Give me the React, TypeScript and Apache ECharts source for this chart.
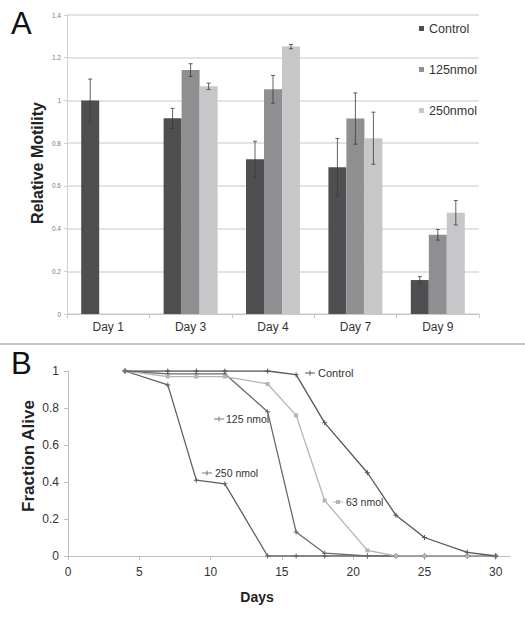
import React, { useEffect, useRef } from "react";
import * as echarts from "echarts";

const categories = ["Day 1", "Day 3", "Day 4", "Day 7", "Day 9"];
const controlVals = [1.0, 0.916, 0.724, 0.687, 0.159];
const controlErr = [0.1, 0.047, 0.085, 0.135, 0.016];
const nm125Vals = [null, 1.142, 1.052, 0.915, 0.371];
const nm125Err = [null, 0.03, 0.065, 0.12, 0.025];
const nm250Vals = [null, 1.066, 1.252, 0.823, 0.474];
const nm250Err = [null, 0.015, 0.01, 0.122, 0.057];

const days = [4, 7, 9, 11, 14, 16, 18, 21, 23, 25, 28, 30];
const survControl = [1, 1, 1, 1, 1, 0.98, 0.72, 0.45, 0.22, 0.1, 0.02, 0];
const surv63 = [1, 0.97, 0.97, 0.97, 0.93, 0.76, 0.3, 0.03, 0, 0, 0, 0];
const surv125 = [1, 0.985, 0.985, 0.985, 0.78, 0.13, 0.015, 0, 0, 0, 0, 0];
const surv250 = [1, 0.925, 0.41, 0.39, 0, 0, 0, 0, 0, 0, 0, 0];

const FONT = "Liberation Sans, Arial, sans-serif";
const PLUS = "path://M2,0h1v2h2v1h-2v2h-1v-2h-2v-1h2z";
const BAR_W = 18;

function legendMark(x: number, y: number, color: string, square: boolean) {
  return [
    { type: "line", shape: { x1: x - 5, y1: y, x2: x + 5, y2: y }, style: { stroke: color, lineWidth: 1 } },
    square
      ? { type: "rect", shape: { x: x - 2, y: y - 2, width: 4, height: 4 }, style: { fill: color } }
      : { type: "rect", shape: { x: x - 0.5, y: y - 2.5, width: 1, height: 5 }, style: { fill: color } },
  ];
}

export default function App() {
  const refA = useRef<HTMLDivElement>(null);
  const refB = useRef<HTMLDivElement>(null);

  useEffect(() => {
    const chartA = echarts.init(refA.current!, null, { renderer: "svg" });
    const chartB = echarts.init(refB.current!, null, { renderer: "svg" });

    const errData: any[] = [];
    const groups = [
      [controlVals, controlErr],
      [nm125Vals, nm125Err],
      [nm250Vals, nm250Err],
    ];
    groups.forEach(([vals, errs], gi) => {
      vals.forEach((v: any, i: number) => {
        if (v != null) errData.push([i, v, errs[i], gi]);
      });
    });

    chartA.setOption({
      animation: false,
      textStyle: { fontFamily: FONT },
      grid: { left: 67, right: 46, top: 15, bottom: 31 },
      legend: {
        data: ["Control", "125nmol", "250nmol"],
        orient: "vertical",
        left: 414,
        top: 17,
        itemGap: 28,
        itemWidth: 5,
        itemHeight: 5,
        icon: "rect",
        textStyle: { fontSize: 12.5, color: "#333", fontFamily: FONT },
      },
      xAxis: {
        type: "category",
        data: categories,
        axisLine: { lineStyle: { color: "#c8c8c8", width: 1 } },
        axisTick: { show: true, length: 4, lineStyle: { color: "#c8c8c8" } },
        axisLabel: { fontSize: 12, color: "#333", margin: 7 },
      },
      yAxis: {
        type: "value",
        min: 0,
        max: 1.4,
        interval: 0.2,
        axisLine: { show: true, lineStyle: { color: "#d0d0d0" } },
        axisTick: { show: true, length: 3, lineStyle: { color: "#d0d0d0" } },
        axisLabel: { fontSize: 6.5, color: "#777", margin: 6 },
        splitLine: { lineStyle: { color: "#dadada", width: 1.5 } },
      },
      series: [
        { name: "Control", type: "bar", data: controlVals, barWidth: BAR_W, barGap: "0%", itemStyle: { color: "#4f4f51" } },
        { name: "125nmol", type: "bar", data: nm125Vals, barWidth: BAR_W, barGap: "0%", itemStyle: { color: "#8f8f91" } },
        { name: "250nmol", type: "bar", data: nm250Vals, barWidth: BAR_W, barGap: "0%", itemStyle: { color: "#c7c7c9" } },
        {
          type: "custom",
          data: errData,
          encode: { x: 0, y: 1 },
          z: 10,
          renderItem: (params: any, api: any) => {
            const cat = api.value(0);
            const v = api.value(1);
            const e = api.value(2);
            const g = api.value(3);
            const hi = api.coord([cat, v + e]);
            const lo = api.coord([cat, v - e]);
            const x = hi[0] + (g - 1) * BAR_W;
            const st = { stroke: "#3a3a3a", lineWidth: 0.8 };
            return {
              type: "group",
              children: [
                { type: "line", shape: { x1: x, y1: hi[1], x2: x, y2: lo[1] }, style: st },
                { type: "line", shape: { x1: x - 2, y1: hi[1], x2: x + 2, y2: hi[1] }, style: st },
                { type: "line", shape: { x1: x - 2, y1: lo[1], x2: x + 2, y2: lo[1] }, style: st },
              ],
            };
          },
        },
      ],
      graphic: [
        { type: "text", left: 11, top: 8, style: { text: "A", fontSize: 31, fontFamily: FONT, fill: "#111" } },
        {
          type: "text",
          x: 37,
          y: 163,
          rotation: Math.PI / 2,
          style: { text: "Relative Motility", fontSize: 16, fontWeight: "bold", fontFamily: FONT, fill: "#222", align: "center", verticalAlign: "middle" },
        },
        { type: "line", shape: { x1: 0, y1: 344, x2: 525, y2: 344 }, style: { stroke: "#c4c4c4", lineWidth: 2 } },
      ],
    });

    const mk = (vals: number[]) => days.map((d, i) => [d, vals[i]]);
    const lineSeries = (name: string, vals: number[], color: string, symbol: string, size: number) => ({
      name,
      type: "line",
      data: mk(vals),
      symbol,
      symbolSize: size,
      showAllSymbol: true,
      lineStyle: { color, width: 1.3 },
      itemStyle: { color },
    });

    chartB.setOption({
      animation: false,
      textStyle: { fontFamily: FONT },
      grid: { left: 68, right: 15, top: 26, bottom: 62 },
      xAxis: {
        type: "value",
        min: 0,
        max: 31,
        interval: 5,
        axisLine: { lineStyle: { color: "#bdbdbd" } },
        axisTick: { show: true, length: 4, lineStyle: { color: "#bdbdbd" } },
        axisLabel: { fontSize: 12, color: "#333", margin: 10, showMaxLabel: false },
        splitLine: { show: false },
      },
      yAxis: {
        type: "value",
        min: 0,
        max: 1,
        interval: 0.2,
        axisLine: { show: true, lineStyle: { color: "#bdbdbd" } },
        axisTick: { show: true, length: 4, lineStyle: { color: "#bdbdbd" } },
        axisLabel: { fontSize: 12, color: "#333", margin: 9 },
        splitLine: { show: false },
      },
      series: [
        lineSeries("250 nmol", surv250, "#5e5e5e", PLUS, 5),
        lineSeries("125 nmol", surv125, "#6a6a6a", PLUS, 5),
        lineSeries("63 nmol", surv63, "#b4b4b4", "rect", 4),
        lineSeries("Control", survControl, "#555555", PLUS, 5),
      ],
      graphic: [
        { type: "text", left: 11, top: 3, style: { text: "B", fontSize: 31, fontFamily: FONT, fill: "#111" } },
        {
          type: "text",
          x: 28,
          y: 111,
          rotation: Math.PI / 2,
          style: { text: "Fraction Alive", fontSize: 17, fontWeight: "bold", fontFamily: FONT, fill: "#222", align: "center", verticalAlign: "middle" },
        },
        {
          type: "text",
          x: 257,
          y: 252,
          style: { text: "Days", fontSize: 14, fontWeight: "bold", fontFamily: FONT, fill: "#222", align: "center", verticalAlign: "middle" },
        },
        ...legendMark(310, 28, "#555", false),
        { type: "text", x: 318, y: 28, style: { text: "Control", fontSize: 11, fontFamily: FONT, fill: "#333", verticalAlign: "middle" } },
        ...legendMark(219, 74, "#777", false),
        { type: "text", x: 226, y: 74, style: { text: "125 nmol", fontSize: 10.5, fontFamily: FONT, fill: "#333", verticalAlign: "middle" } },
        ...legendMark(207, 128, "#777", false),
        { type: "text", x: 215, y: 128, style: { text: "250 nmol", fontSize: 10.5, fontFamily: FONT, fill: "#333", verticalAlign: "middle" } },
        ...legendMark(338, 157, "#b4b4b4", true),
        { type: "text", x: 346, y: 157, style: { text: "63 nmol", fontSize: 10.5, fontFamily: FONT, fill: "#333", verticalAlign: "middle" } },
      ],
    });

    return () => {
      chartA.dispose();
      chartB.dispose();
    };
  }, []);

  return (
    <div style={{ position: "absolute", left: 0, top: 0, width: 525, height: 618, background: "#fff" }}>
      <div ref={refA} style={{ width: 525, height: 345 }} />
      <div ref={refB} style={{ width: 525, height: 273 }} />
    </div>
  );
}
